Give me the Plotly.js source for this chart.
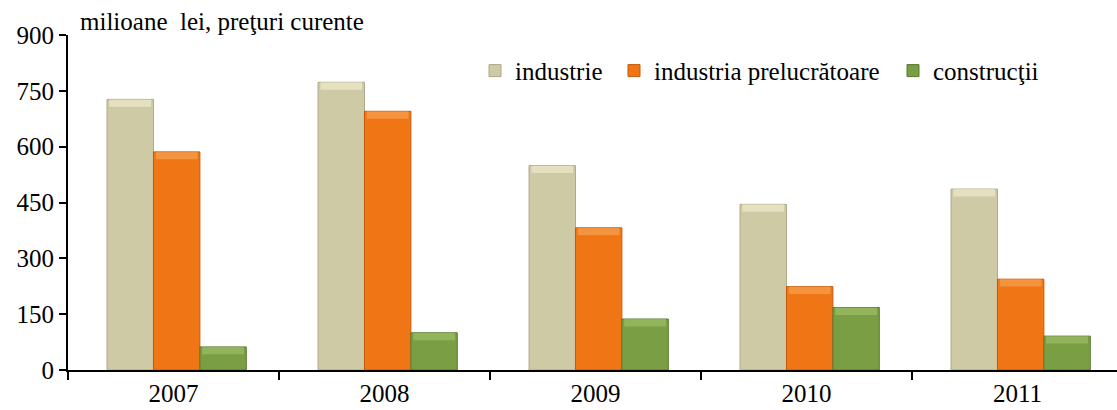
<!DOCTYPE html>
<html>
<head>
<meta charset="utf-8">
<script src="https://cdn.plot.ly/plotly-3.0.1.min.js"></script>
<style>html,body{margin:0;padding:0;overflow:hidden;background:#fff}</style>
</head>
<body>
<div id="chart" style="width:1123px;height:410px"></div>
<script>
const years = ["2007", "2008", "2009", "2010", "2011"];
const industrie = [727, 773, 549, 445, 486];
const prelucratoare = [586, 695, 382, 224, 244];
const constructii = [62, 100, 137, 168, 91];
const seriesNames = ["industrie", "industria prelucrătoare", "construcţii"];
const yTicks = [0, 150, 300, 450, 600, 750, 900];

const FONT = "Liberation Serif";
const colors = ["#CFCAA6", "#F07514", "#7A9E43"];
const capColors = ["#F4F0D2", "#F9A95A", "#A2C46C"];
const lines = ["#ADA888", "#C45A0A", "#5A7A2E"];
const offsets = [-0.315, -0.095, 0.125];
const BW = 0.22;
const CAP = 20;
const legendIds = ["legend", "legend2", "legend3"];
const series = [industrie, prelucratoare, constructii];

const data = [];
series.forEach((v, i) => {
  data.push({
    type: "bar", x: years, y: v, name: seriesNames[i],
    width: BW, offset: offsets[i],
    legend: legendIds[i],
    marker: {color: colors[i], line: {color: lines[i], width: 1}},
    hoverinfo: "x+y"
  });
});
series.forEach((v, i) => {
  data.push({
    type: "bar", x: years, y: v.map(() => CAP), base: v.map(d => Math.max(0, d - CAP)),
    width: BW * 0.9, offset: offsets[i] + BW * 0.05,
    showlegend: false, hoverinfo: "skip",
    marker: {color: capColors[i], opacity: 0.6, line: {width: 0}}
  });
});

const legBase = {
  orientation: "h", y: 0.893, xanchor: "left", yanchor: "middle",
  font: {family: FONT, size: 25, color: "#000"},
  bgcolor: "rgba(0,0,0,0)", itemwidth: 30
};
const textX = [516, 655, 934];
const plotL = 68, plotW = 1123 - 68;
const legX = textX.map(t => (t - 41 - plotL) / plotW);

const layout = {
  width: 1123,
  height: 410,
  margin: {l: 68, r: 0, t: 35, b: 40},
  paper_bgcolor: "#fff",
  plot_bgcolor: "#fff",
  barmode: "overlay",
  font: {family: FONT, color: "#000", size: 25},
  showlegend: true,
  legend: Object.assign({}, legBase, {x: legX[0]}),
  legend2: Object.assign({}, legBase, {x: legX[1]}),
  legend3: Object.assign({}, legBase, {x: legX[2]}),
  xaxis: {
    type: "category",
    showline: true, linecolor: "#000", linewidth: 2,
    ticks: "outside", tickson: "boundaries", ticklen: 8, tickwidth: 2, tickcolor: "#000",
    showgrid: false, zeroline: false,
    tickfont: {family: FONT, size: 25, color: "#000"}
  },
  yaxis: {
    range: [0, 900],
    tickvals: yTicks,
    ticktext: yTicks.map(String),
    showline: true, linecolor: "#000", linewidth: 2,
    ticks: "outside", ticklen: 7, tickwidth: 2, tickcolor: "#000",
    showgrid: false, zeroline: false,
    tickfont: {family: FONT, size: 25, color: "#000"}
  },
  annotations: [{
    text: "milioane  lei, preţuri curente",
    xref: "paper", yref: "paper",
    x: (80 - plotL) / plotW, y: 1.0, xanchor: "left", yanchor: "bottom",
    xshift: -2, yshift: -2,
    showarrow: false,
    font: {family: FONT, size: 25, color: "#000"}
  }]
};

Plotly.newPlot("chart", data, layout, {displayModeBar: false, staticPlot: true});
</script>
</body>
</html>
